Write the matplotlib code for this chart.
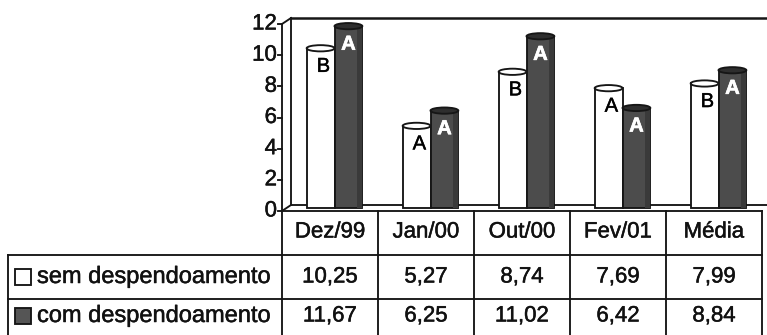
import matplotlib
matplotlib.use("Agg")
import matplotlib.pyplot as plt
from matplotlib import transforms
from matplotlib import patheffects as pe
from matplotlib.patches import Ellipse, Rectangle
from matplotlib.lines import Line2D

categories = ["Dez/99", "Jan/00", "Out/00", "Fev/01", "Média"]
sem_values = [10.25, 5.27, 8.74, 7.69, 7.99]
com_values = [11.67, 6.25, 11.02, 6.42, 8.84]
sem_letters = ["B", "A", "B", "A", "B"]
com_letters = ["A", "A", "A", "A", "A"]
series_names = ["sem despendoamento", "com despendoamento"]
y_ticks = [0, 2, 4, 6, 8, 10, 12]

plt.rcParams["font.family"] = ["Liberation Sans", "DejaVu Sans"]

W, H, DPI = 767, 335, 100
fig = plt.figure(figsize=(W / DPI, H / DPI), dpi=DPI)
fig.patch.set_facecolor("white")

INK = "#161616"
LW = 1.35
heavy = [pe.withStroke(linewidth=0.35, foreground="#151515")]
heavy_white = [pe.withStroke(linewidth=0.5, foreground="white")]

# plotting region, in pixels measured from the top-left corner
X0, X1 = 282, 762
Y_BASE, Y_TOP = 211, 24
ax = fig.add_axes([X0 / W, 1 - Y_BASE / H, (X1 - X0) / W, (Y_BASE - Y_TOP) / H])
ax.axis("off")

# pixel transform (origin top-left) for the table grid
px = transforms.Affine2D().scale(1 / W, -1 / H).translate(0, 1) + fig.transFigure

# depth of the 3D box
DX, DY = 9, 6
back = transforms.offset_copy(ax.transData, fig=fig, x=DX, y=DY, units="dots")
mid = transforms.offset_copy(ax.transData, fig=fig, x=DX / 2, y=DY / 2, units="dots")

n = len(categories)
xmin, xmax = -0.5, n - 0.5


def line_px(xs, ys, **kw):
    fig.add_artist(Line2D(xs, ys, transform=px, color=INK, lw=LW, **kw))


def seg_display(p, tp, q, tq, **kw):
    a = tp.transform(p)
    b = tq.transform(q)
    fig.add_artist(Line2D([a[0], b[0]], [a[1], b[1]],
                          transform=transforms.IdentityTransform(),
                          color=INK, lw=LW, **kw))


# bars (cylinders standing at mid depth)
bw = 0.29
off = 0.145
xs = list(range(n))
sem_bars = ax.bar([x - off for x in xs], sem_values, width=bw, color="white",
                  edgecolor=INK, linewidth=LW, zorder=3)
com_bars = ax.bar([x + off for x in xs], com_values, width=bw, color="#4c4c4c",
                  edgecolor=INK, linewidth=LW, zorder=5)
for r in list(sem_bars) + list(com_bars):
    r.set_transform(mid)
    r.set_clip_on(False)

ax.set_xlim(xmin, xmax)
ax.set_ylim(0, 12)

cap_h = 0.40
for i in xs:
    e = Ellipse((i - off, sem_values[i]), bw, cap_h, facecolor="white",
                edgecolor=INK, lw=LW, transform=mid, zorder=4, clip_on=False)
    ax.add_patch(e)
    e = Ellipse((i + off, com_values[i]), bw, cap_h, facecolor="#2e2e2e",
                edgecolor=INK, lw=LW, transform=mid, zorder=6, clip_on=False)
    ax.add_patch(e)
    # darker shading strip along the right side of the dark cylinder
    ax.add_patch(Rectangle((i + off + bw * 0.30, 0), bw * 0.2, com_values[i],
                           facecolor="#3a3a3a", edgecolor="none",
                           transform=mid, zorder=5.5, clip_on=False))

    ax.annotate(sem_letters[i], (i - off, sem_values[i]), xycoords=mid,
                xytext=(2, -13), textcoords="offset points", ha="center",
                va="center", fontsize=14.5, color="black", zorder=7,
                path_effects=heavy)
    ax.annotate(com_letters[i], (i + off, com_values[i]), xycoords=mid,
                xytext=(0, -13), textcoords="offset points", ha="center",
                va="center", fontsize=14.5, fontweight="bold", color="white",
                zorder=7, path_effects=heavy_white)

# back wall and side wall edges
ax.plot([xmin, xmax + 0.2], [12, 12], color=INK, lw=1.8, transform=back,
        clip_on=False, zorder=1)
ax.plot([xmin, xmin], [0, 12], color=INK, lw=LW, transform=back,
        clip_on=False, zorder=1)
ax.plot([xmin, xmax + 0.2], [0, 0], color=INK, lw=LW, transform=back,
        clip_on=False, zorder=1)
ax.plot([xmin, xmin], [0, 12], color=INK, lw=LW, transform=ax.transData,
        clip_on=False, zorder=2)
seg_display((xmin, 12), ax.transData, (xmin, 12), back)
seg_display((xmin, 0), ax.transData, (xmin, 0), back)

# value axis ticks and labels
for t in y_ticks:
    a = ax.transData.transform((xmin, t))
    fig.add_artist(Line2D([a[0] - 4, a[0]], [a[1], a[1]],
                          transform=transforms.IdentityTransform(),
                          color=INK, lw=LW))
    ax.annotate(str(t), (xmin, t), xycoords="data", xytext=(-3.6, 0),
                textcoords="offset points", ha="right", va="center",
                fontsize=16, color="#111111", annotation_clip=False,
                path_effects=heavy)

# data table beneath the chart
col_w = (X1 - X0) / n
col_edges = [X0 + k * col_w for k in range(n + 1)]
ROW1, ROW2, BOTTOM = 255, 299, 345
LEFT = 8

line_px([X0, X1], [Y_BASE, Y_BASE])
line_px([LEFT, X1], [ROW1, ROW1])
line_px([LEFT, X1], [ROW2, ROW2])
line_px([LEFT, LEFT], [ROW1, BOTTOM])
for xe in col_edges:
    line_px([xe, xe], [Y_BASE, BOTTOM])

TABLE_FS = 16
for k, name in enumerate(categories):
    cx = X0 + (k + 0.5) * col_w
    fig.text(cx, 232, name, transform=px, ha="center", va="center",
             fontsize=TABLE_FS, color="#111111", path_effects=heavy)
    fig.text(cx, 277, f"{sem_values[k]:.2f}".replace(".", ","), transform=px,
             ha="center", va="center", fontsize=TABLE_FS, color="#111111",
             path_effects=heavy)
    fig.text(cx, 316, f"{com_values[k]:.2f}".replace(".", ","), transform=px,
             ha="center", va="center", fontsize=TABLE_FS, color="#111111",
             path_effects=heavy)

# legend keys in the row headers
for yc, fc, name in [(277, "white", series_names[0]), (316, "#555555", series_names[1])]:
    fig.add_artist(Rectangle((15, yc - 8), 16, 16, transform=px, facecolor=fc,
                             edgecolor=INK, lw=LW))
    fig.text(37, yc, name, transform=px, ha="left", va="center",
             fontsize=17, color="#111111", path_effects=heavy)

fig.savefig("out.png", dpi=DPI, facecolor="white")
